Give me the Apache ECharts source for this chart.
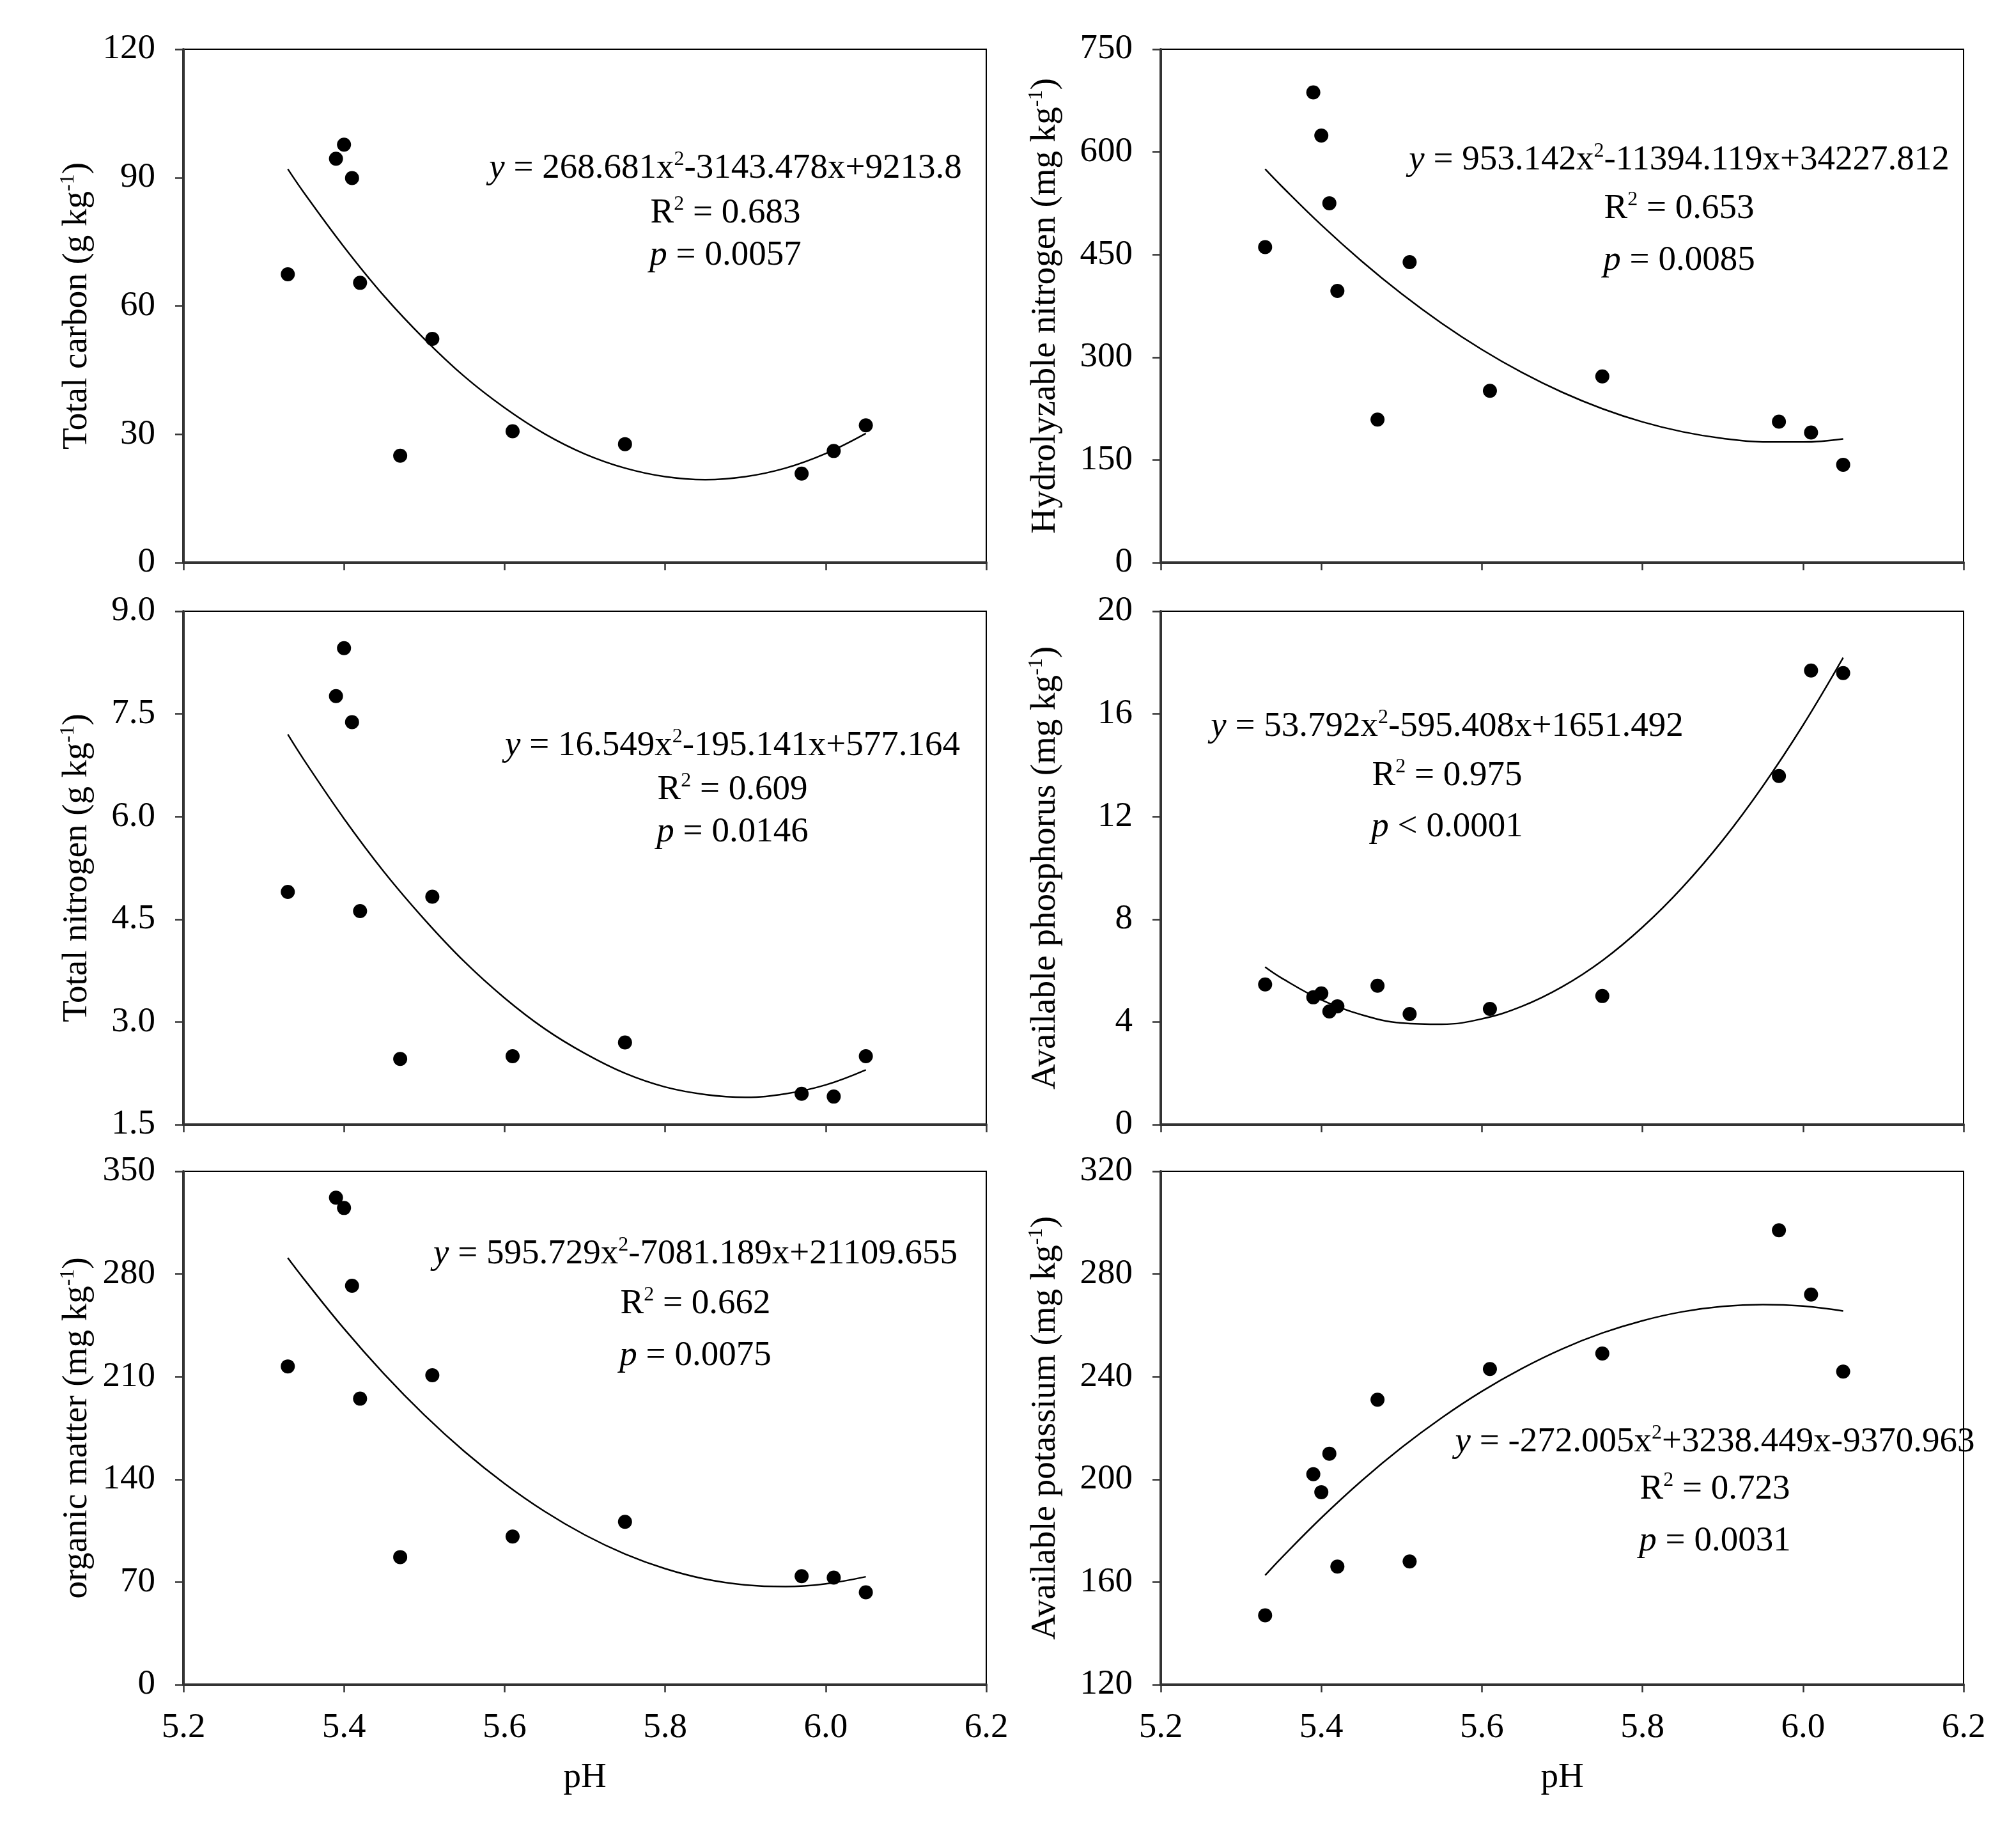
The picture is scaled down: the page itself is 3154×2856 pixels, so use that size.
<!DOCTYPE html>
<html>
<head>
<meta charset="utf-8">
<script src="https://cdn.jsdelivr.net/npm/echarts@6/dist/echarts.min.js"></script>
<style>
html, body { margin: 0; padding: 0; background: #fff; }
#main { width: 3154px; height: 2856px; }
</style>
</head>
<body>
<div id="main"></div>
<script>
// soil samples, pH on x for every panel
var pH = [5.33, 5.39, 5.40, 5.41, 5.42, 5.47, 5.51, 5.61, 5.75, 5.97, 6.01, 6.05];
var totalCarbon = [67.4, 94.4, 97.7, 89.9, 65.4, 25.0, 52.3, 30.7, 27.7, 20.8, 26.1, 32.1];
var hydrolyzableN = [461, 687, 624, 525, 397, 209, 439, 251, 272, 206, 190, 143];
var totalNitrogen = [4.90, 7.76, 8.46, 7.38, 4.62, 2.46, 4.83, 2.50, 2.70, 1.95, 1.91, 2.50];
var availableP = [5.46, 4.96, 5.11, 4.41, 4.61, 5.41, 4.31, 4.51, 5.01, 13.58, 17.69, 17.59];
var organicMatter = [217, 332, 325, 272, 195, 87, 211, 101, 111, 74, 73, 63];
var availableK = [147, 202, 195, 210, 166, 231, 168, 243, 249, 297, 272, 242];

// fitted curves
var fitX = [5.33, 5.35, 5.40, 5.45, 5.50, 5.55, 5.60, 5.65, 5.70, 5.75, 5.80, 5.85, 5.90, 5.95, 6.00, 6.05];
var fitCarbon = [92.0, 86.5, 73.8, 62.3, 52.3, 43.5, 36.2, 30.1, 25.4, 22.1, 20.1, 19.4, 20.1, 22.1, 25.5, 30.2];
var fitHydroN = [574.9, 550.6, 493.2, 440.6, 392.7, 349.6, 311.3, 277.7, 248.9, 224.9, 205.6, 191.1, 181.4, 176.4, 176.2, 180.8];
var fitTotalN = [7.20, 6.83, 5.97, 5.19, 4.50, 3.88, 3.35, 2.90, 2.54, 2.25, 2.05, 1.94, 1.90, 1.95, 2.08, 2.30];
var fitAvailP = [6.14, 5.72, 4.86, 4.28, 3.96, 3.91, 4.12, 4.61, 5.37, 6.39, 7.69, 9.25, 11.08, 13.19, 15.56, 18.19];
var fitOM = [290.9, 276.6, 242.7, 211.8, 183.9, 159.0, 137.1, 118.1, 102.1, 89.1, 79.1, 72.0, 68.0, 66.9, 68.8, 73.6];
var fitK = [162.6, 169.3, 185.0, 199.4, 212.4, 224.0, 234.3, 243.2, 250.8, 257.0, 261.8, 265.3, 267.4, 268.1, 267.5, 265.6];

// axes
var xTicks = [5.2, 6.2, 0.2];
var yRanges = [[0, 120, 30], [0, 750, 150], [1.5, 9.0, 1.5], [0, 20, 4], [0, 350, 70], [120, 320, 40]];
var yNames = [
    'Total carbon (g kg{s|-1})',
    'Hydrolyzable nitrogen (mg kg{s|-1})',
    'Total nitrogen (g kg{s|-1})',
    'Available phosphorus (mg kg{s|-1})',
    'organic matter (mg kg{s|-1})',
    'Available potassium (mg kg{s|-1})'
];
var equations = [
    '{i|y} = 268.681x{s|2}-3143.478x+9213.8',
    '{i|y} = 953.142x{s|2}-11394.119x+34227.812',
    '{i|y} = 16.549x{s|2}-195.141x+577.164',
    '{i|y} = 53.792x{s|2}-595.408x+1651.492',
    '{i|y} = 595.729x{s|2}-7081.189x+21109.655',
    '{i|y} = -272.005x{s|2}+3238.449x-9370.963'
];
var rSquared = ['0.683', '0.653', '0.609', '0.975', '0.662', '0.723'];
var pValues = ['= 0.0057', '= 0.0085', '= 0.0146', '< 0.0001', '= 0.0075', '= 0.0031'];

var points = [totalCarbon, hydrolyzableN, totalNitrogen, availableP, organicMatter, availableK];
var fits = [fitCarbon, fitHydroN, fitTotalN, fitAvailP, fitOM, fitK];

var FONT = 'Liberation Serif';
var FS = 55;
var rich = {
    s: { fontFamily: FONT, fontSize: 32, verticalAlign: 'top', lineHeight: 32, color: '#000' },
    i: { fontFamily: FONT, fontSize: FS, fontStyle: 'italic', color: '#000' }
};

// layout of the 6 panels
var colLeft = [287, 1816];
var rowTop = [77, 956, 1832];
var plotW = 1256, plotH = 803;
var nameGaps = [136, 150];
// text block centres: [x, y1, y2, y3]
var textPos = [
    [1135, 264, 334, 400],
    [2627, 251, 327, 408],
    [1146, 1167, 1236, 1302],
    [2264, 1137, 1214, 1294],
    [1088, 1962, 2040, 2121],
    [2683, 2256, 2330, 2411]
];

var grids = [], xAxes = [], yAxes = [], series = [], graphics = [];

for (var k = 0; k < 6; k++) {
    var col = k % 2, row = Math.floor(k / 2);
    grids.push({
        left: colLeft[col], top: rowTop[row], width: plotW, height: plotH,
        show: true, borderColor: '#000', borderWidth: 2, backgroundColor: 'transparent'
    });
    xAxes.push({
        gridIndex: k, type: 'value', min: xTicks[0], max: xTicks[1], interval: xTicks[2],
        name: row === 2 ? 'pH' : '', nameLocation: 'middle', nameGap: 118,
        nameTextStyle: { fontFamily: FONT, fontSize: FS, color: '#000' },
        axisLine: { onZero: false, lineStyle: { color: '#333', width: 4 } },
        axisTick: { inside: false, length: 12, lineStyle: { color: '#333', width: 2.5 } },
        axisLabel: {
            show: row === 2, margin: 40, fontFamily: FONT, fontSize: FS, color: '#000',
            formatter: function (v) { return v.toFixed(1); }
        },
        splitLine: { show: false }
    });
    var yr = yRanges[k];
    yAxes.push({
        gridIndex: k, type: 'value', min: yr[0], max: yr[1], interval: yr[2],
        name: yNames[k], nameLocation: 'middle', nameGap: nameGaps[col],
        nameTextStyle: { fontFamily: FONT, fontSize: FS, color: '#000', lineHeight: 60, rich: rich },
        axisLine: { onZero: false, lineStyle: { color: '#333', width: 4 } },
        axisTick: { inside: false, length: 13, lineStyle: { color: '#333', width: 2.5 } },
        axisLabel: {
            margin: 44, fontFamily: FONT, fontSize: FS, color: '#000',
            formatter: k === 2 ? function (v) { return v.toFixed(1); } : function (v) { return String(v); }
        },
        splitLine: { show: false }
    });

    var pts = [];
    for (var j = 0; j < pH.length; j++) pts.push([pH[j], points[k][j]]);
    var curve = [];
    for (var j = 0; j < fitX.length; j++) curve.push([fitX[j], fits[k][j]]);

    series.push({
        type: 'line', xAxisIndex: k, yAxisIndex: k, data: curve,
        smooth: 0.4, showSymbol: false, symbol: 'none', silent: true,
        lineStyle: { color: '#000', width: 2.5 }, z: 2
    });
    series.push({
        type: 'scatter', xAxisIndex: k, yAxisIndex: k, data: pts,
        symbol: 'circle', symbolSize: 22, itemStyle: { color: '#000', opacity: 1 }, z: 3
    });

    var tp = textPos[k];
    var lines = [equations[k], 'R{s|2} = ' + rSquared[k], '{i|p} ' + pValues[k]];
    for (var m = 0; m < 3; m++) {
        graphics.push({
            type: 'text', x: tp[0], y: tp[m + 1], z: 100,
            style: {
                text: lines[m], rich: rich, fontFamily: FONT, fontSize: FS, lineHeight: 60,
                fill: '#000', align: 'center', verticalAlign: 'middle'
            }
        });
    }
}

var myChart = echarts.init(document.getElementById('main'));
var option = {
    backgroundColor: '#fff',
    animation: false,
    grid: grids,
    xAxis: xAxes,
    yAxis: yAxes,
    series: series,
    graphic: graphics
};
myChart.setOption(option);
</script>
</body>
</html>
